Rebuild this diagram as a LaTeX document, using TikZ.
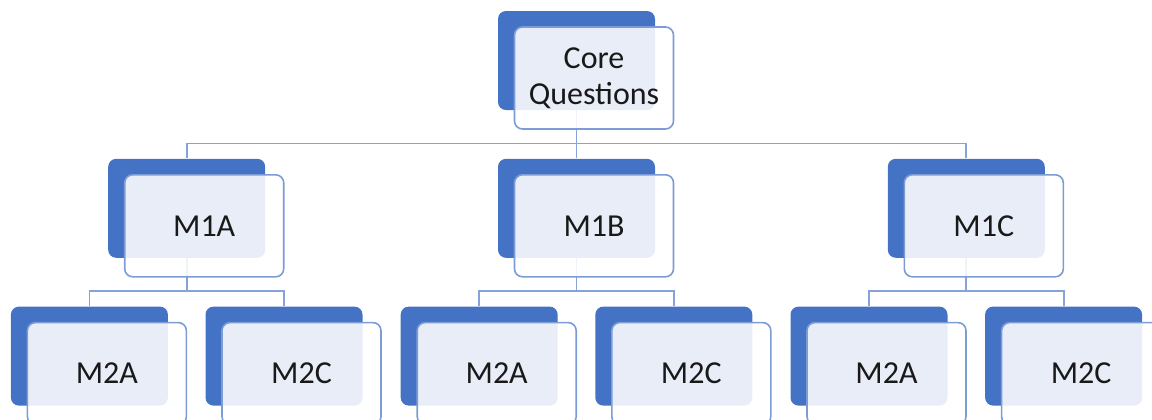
\documentclass[tikz,border=0pt]{standalone}
\usepackage{fontspec}
\setmainfont{Carlito}
\usepackage{tikz}
\usetikzlibrary{positioning,backgrounds}
\definecolor{SAblue}{HTML}{4472C4}

\begin{document}
\begin{tikzpicture}[
  x=0.5pt, y=-0.5pt,
  node distance=24pt and 116pt,
  back/.style={fill=SAblue, rounded corners=4pt, minimum width=78.5pt, minimum height=49.5pt, inner sep=0pt},
  panel/.style={draw=SAblue!70, line width=0.8pt, fill=white, fill opacity=0.88, text opacity=1, rounded corners=4pt,
    minimum width=79.5pt, minimum height=51pt, inner sep=2pt, align=center, text=black!90,
    font=\fontsize{16pt}{18pt}\selectfont},
  line/.style={draw=SAblue!65, line width=0.9pt}
]
\useasboundingbox (0,0) rectangle (1152,419);
\clip (0,0) rectangle (1152,419);

% top
\node[back] (core) at (576.5,60.5) {};
\node[panel] (core-p) at ([shift={(8.75pt,-8.75pt)}]core.center) {Core\\Questions};

% second row
\node[back, below=of core] (m1b) {};
\node[back, left=of m1b] (m1a) {};
\node[back, right=of m1b] (m1c) {};
\node[panel] (m1a-p) at ([shift={(8.75pt,-8.75pt)}]m1a.center) {M1A};
\node[panel] (m1b-p) at ([shift={(8.75pt,-8.75pt)}]m1b.center) {M1B};
\node[panel] (m1c-p) at ([shift={(8.75pt,-8.75pt)}]m1c.center) {M1C};

% third row
\node[back, below=of m1a, xshift=-48.65pt] (a2a) {};
\node[back, below=of m1a, xshift=48.65pt] (a2c) {};
\node[back, below=of m1b, xshift=-48.65pt] (b2a) {};
\node[back, below=of m1b, xshift=48.65pt] (b2c) {};
\node[back, below=of m1c, xshift=-48.65pt] (c2a) {};
\node[back, below=of m1c, xshift=48.65pt] (c2c) {};
\node[panel] (a2a-p) at ([shift={(8.75pt,-8.75pt)}]a2a.center) {M2A};
\node[panel] (a2c-p) at ([shift={(8.75pt,-8.75pt)}]a2c.center) {M2C};
\node[panel] (b2a-p) at ([shift={(8.75pt,-8.75pt)}]b2a.center) {M2A};
\node[panel] (b2c-p) at ([shift={(8.75pt,-8.75pt)}]b2c.center) {M2C};
\node[panel] (c2a-p) at ([shift={(8.75pt,-8.75pt)}]c2a.center) {M2A};
\node[panel] (c2c-p) at ([shift={(8.75pt,-8.75pt)}]c2c.center) {M2C};

% connectors
\begin{scope}[on background layer]
\draw[line] (core.south) -- ++(0,-16.5pt) -| (m1a.north);
\draw[line] (core.south) -- (m1b.north);
\draw[line] (core.south) -- ++(0,-16.5pt) -| (m1c.north);
\draw[line] (m1a.south) -- ++(0,-16.5pt) -| (a2a.north);
\draw[line] (m1a.south) -- ++(0,-16.5pt) -| (a2c.north);
\draw[line] (m1b.south) -- ++(0,-16.5pt) -| (b2a.north);
\draw[line] (m1b.south) -- ++(0,-16.5pt) -| (b2c.north);
\draw[line] (m1c.south) -- ++(0,-16.5pt) -| (c2a.north);
\draw[line] (m1c.south) -- ++(0,-16.5pt) -| (c2c.north);
\end{scope}
\end{tikzpicture}
\end{document}
